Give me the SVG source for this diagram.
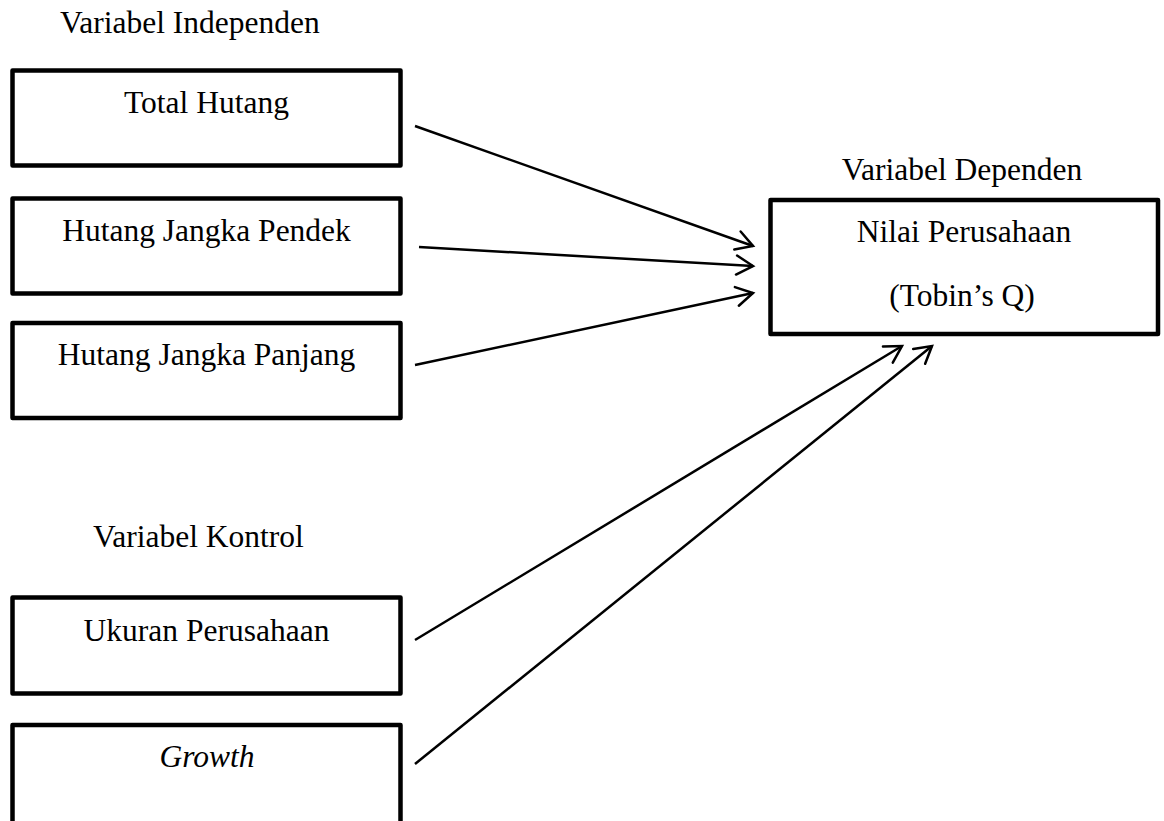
<svg xmlns="http://www.w3.org/2000/svg" width="1164" height="821" viewBox="0 0 1164 821">
<style>
.box{fill:#fff;stroke:#000;stroke-width:4.5;stroke-linejoin:round}
.t{font-family:"Liberation Serif","Times New Roman",serif;font-size:31.5px;fill:#000}
.c{text-anchor:middle}
.con{stroke:#000;stroke-width:2.5;fill:none;marker-end:url(#arr)}
</style>
<defs>
<marker id="arr" markerUnits="userSpaceOnUse" markerWidth="40" markerHeight="40" viewBox="-20 -20 40 40" refX="0" refY="0" orient="auto">
<path d="M-16.5,-9.5 L0,0 L-16.5,9.5" fill="none" stroke="#000" stroke-width="2.5" stroke-linecap="round" stroke-linejoin="miter"/>
</marker>
</defs>
<rect width="1164" height="821" fill="#fff"/>
<text class="t" x="60" y="33">Variabel Independen</text>
<text class="t" x="93" y="547">Variabel Kontrol</text>
<text class="t c" x="962" y="180">Variabel Dependen</text>
<g id="total-hutang">
<rect class="box" x="12.5" y="70.5" width="388" height="95"/>
<text class="t c" x="206.5" y="113">Total Hutang</text>
</g>
<g id="hutang-pendek">
<rect class="box" x="12.5" y="198.5" width="388" height="95"/>
<text class="t c" x="206.5" y="241">Hutang Jangka Pendek</text>
</g>
<g id="hutang-panjang">
<rect class="box" x="12.5" y="323" width="388" height="95"/>
<text class="t c" x="206.5" y="365">Hutang Jangka Panjang</text>
</g>
<g id="ukuran">
<rect class="box" x="12.5" y="597.5" width="388" height="96"/>
<text class="t c" x="206.5" y="641">Ukuran Perusahaan</text>
</g>
<g id="growth">
<rect class="box" x="12.5" y="725" width="388" height="99"/>
<text class="t c" x="207" y="767" font-style="italic">Growth</text>
</g>
<g id="nilai">
<rect class="box" x="770.5" y="200" width="387.5" height="134"/>
<text class="t c" x="964" y="242">Nilai Perusahaan</text>
<text class="t c" x="962" y="306">(Tobin’s Q)</text>
</g>
<g id="connectors">
<line class="con" x1="415" y1="126" x2="753" y2="246"/>
<line class="con" x1="419" y1="247" x2="753" y2="266"/>
<line class="con" x1="415" y1="365" x2="753" y2="293"/>
<line class="con" x1="415" y1="640" x2="902" y2="346"/>
<line class="con" x1="415" y1="764" x2="932" y2="346"/>
</g>
</svg>
